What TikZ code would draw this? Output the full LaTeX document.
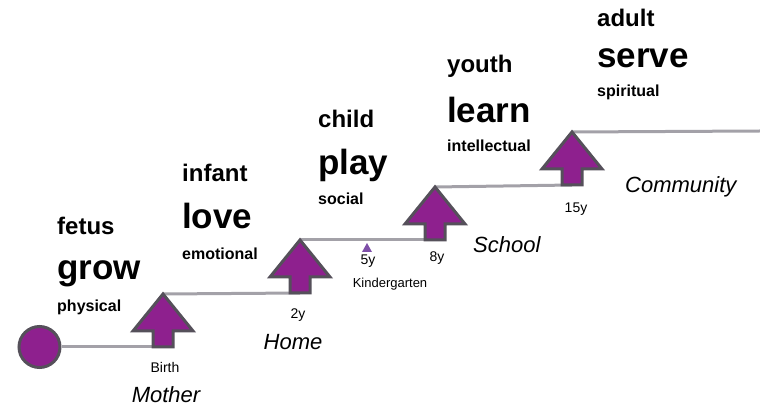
\documentclass[tikz,border=0pt]{standalone}
\usepackage{fontspec}
\setmainfont{Liberation Sans}

\definecolor{stagepurple}{HTML}{8E208E}
\definecolor{stageborder}{HTML}{55505A}
\definecolor{stepgray}{HTML}{A3A1A8}
\definecolor{kgpurple}{HTML}{7E4FA8}

\tikzset{
  stagearrow/.pic={
    \draw[fill=stagepurple, draw=stageborder, line width=3pt]
      (0,0) -- (30,37) -- (10,37) -- (10,53) -- (-10,53) -- (-10,37) -- (-30,37) -- cycle;
    \coordinate (-tip) at (0,0);
    \coordinate (-foot) at (0,53);
  },
  stepline/.style={draw=stepgray, line width=3pt},
  agetext/.style={font=\bfseries\fontsize{24}{28}\selectfont, anchor=base west, inner sep=0pt},
  verbtext/.style={font=\bfseries\fontsize{35}{40}\selectfont, anchor=base west, inner sep=0pt},
  domaintext/.style={font=\bfseries\fontsize{16}{19}\selectfont, anchor=base west, inner sep=0pt},
  yeartext/.style={font=\fontsize{14}{16}\selectfont, anchor=base, inner sep=0pt},
  placetext/.style={font=\itshape\fontsize{22}{26}\selectfont, anchor=base west, inner sep=0pt}
}

\begin{document}
\begin{tikzpicture}[x=1pt, y=-1pt]
  \useasboundingbox (0,0) rectangle (760,411);

  % start of life
  \node[circle, fill=stagepurple, draw=stageborder, line width=3pt, minimum size=41pt, inner sep=0pt] (start) at (39.5,347) {};

  % steps (drawn under the arrows)
  \coordinate (a1-foot) at (163,347);
  \coordinate (a2-foot) at (300,293);
  \coordinate (a3-foot) at (435,240);
  \coordinate (a4-foot) at (572,185);
  \coordinate (a1-tip) at (163,294);
  \coordinate (a2-tip) at (300,240);
  \coordinate (a3-tip) at (435,187);
  \coordinate (a4-tip) at (572,132);
  \coordinate (end) at (760,131);
  \draw[stepline] (start) -- (a1-foot);
  \draw[stepline] (a1-tip) -- (a2-foot);
  \draw[stepline] (a2-tip) -- (a3-foot);
  \draw[stepline] (a3-tip) -- (a4-foot);
  \draw[stepline] (a4-tip) -- (end);

  % arrows
  \pic (a1) at (163,294) {stagearrow};
  \pic (a2) at (300,240) {stagearrow};
  \pic (a3) at (435,187) {stagearrow};
  \pic (a4) at (572,132) {stagearrow};

  % kindergarten mark
  \fill[kgpurple] (362,252) -- (372,252) -- (367,243) -- cycle;

  % stages
  \node[agetext] (fetus) at (57,235) {fetus};
  \node[verbtext] (grow) at (57,280) {grow};
  \node[domaintext] (physical) at (57,312) {physical};

  \node[agetext] (infant) at (182,182) {infant};
  \node[verbtext] (love) at (182,229) {love};
  \node[domaintext] (emotional) at (182,260) {emotional};

  \node[agetext] (child) at (318,128) {child};
  \node[verbtext] (play) at (318,175) {play};
  \node[domaintext] (social) at (318,205) {social};

  \node[agetext] (youth) at (447,73) {youth};
  \node[verbtext] (learn) at (447,123) {learn};
  \node[domaintext] (intellectual) at (447,152) {intellectual};

  \node[agetext] (adult) at (597,27) {adult};
  \node[verbtext] (serve) at (597,68) {serve};
  \node[domaintext] (spiritual) at (597,97) {spiritual};

  % ages and places
  \node[yeartext] (birth) at (165,372) {Birth};
  \node[placetext, anchor=base] (mother) at (166,402) {Mother};
  \node[yeartext] (y2) at (298,319) {2y};
  \node[placetext, anchor=base] (home) at (293,350) {Home};
  \node[yeartext] (y5) at (368,265) {5y};
  \node[yeartext, font=\fontsize{13}{15}\selectfont] (kindergarten) at (390,288) {Kindergarten};
  \node[yeartext] (y8) at (437,262) {8y};
  \node[placetext] (school) at (473,253) {School};
  \node[yeartext] (y15) at (576,213) {15y};
  \node[placetext] (community) at (625,193) {Community};
\end{tikzpicture}
\end{document}
